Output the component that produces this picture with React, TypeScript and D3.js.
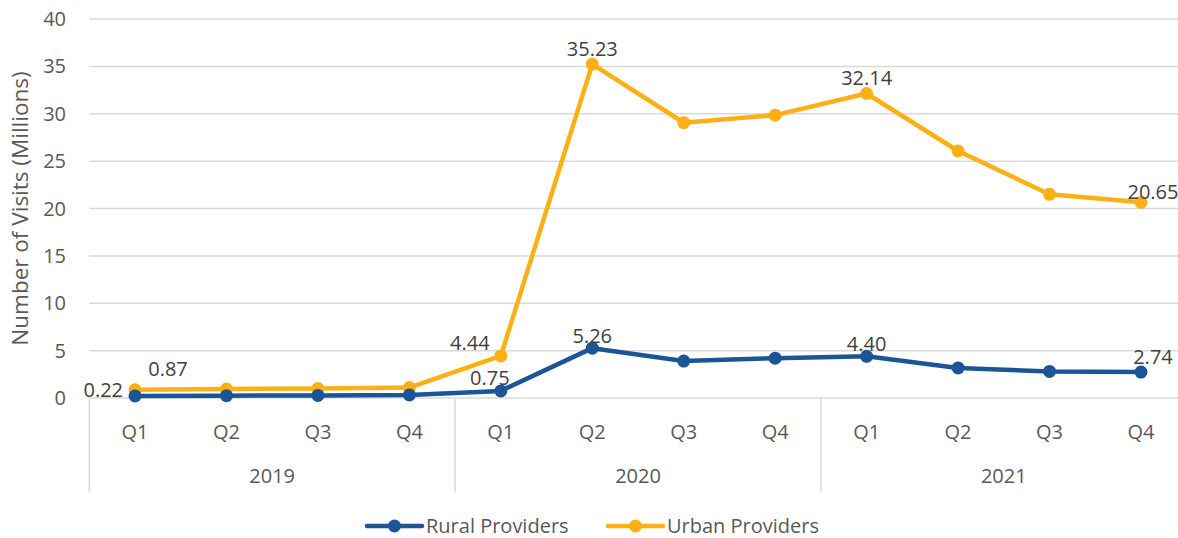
import React from "react";
import * as d3 from "d3";

const years = ["2019", "2020", "2021"];
const quarters = ["Q1", "Q2", "Q3", "Q4"];
const categories = years.flatMap((y) => quarters.map((q) => `${y} ${q}`));
const rural = [0.22, 0.25, 0.27, 0.32, 0.75, 5.26, 3.9, 4.2, 4.4, 3.17, 2.8, 2.74];
const urban = [0.87, 0.95, 1.0, 1.1, 4.44, 35.23, 29.05, 29.85, 32.14, 26.07, 21.5, 20.65];
const yTicks = [0, 5, 10, 15, 20, 25, 30, 35, 40];

// label config: series, index, text offset from the point
const labels = [
  { s: "rural", i: 0, dx: -12, dy: -6, anchor: "end" },
  { s: "urban", i: 0, dx: 33, dy: -21, anchor: "middle" },
  { s: "urban", i: 4, dx: -31, dy: -13, anchor: "middle" },
  { s: "rural", i: 4, dx: -11, dy: -13, anchor: "middle" },
  { s: "urban", i: 5, dx: 0, dy: -15, anchor: "middle" },
  { s: "rural", i: 5, dx: 0, dy: -12, anchor: "middle" },
  { s: "urban", i: 8, dx: 0, dy: -15, anchor: "middle" },
  { s: "rural", i: 8, dx: 0, dy: -12, anchor: "middle" },
  { s: "urban", i: 11, dx: 12, dy: -10, anchor: "middle" },
  { s: "rural", i: 11, dx: 12, dy: -15, anchor: "middle" },
];

const BLUE = "#1B5596";
const ORANGE = "#FDB016";
const FONT = "'Open Sans', sans-serif";
const TXT = "#595959";

export default function App() {
  const W = 1178, H = 538;
  const left = 89.3, right = 1186.7, top = 19, bottom = 398;
  const x = d3.scaleBand<string>().domain(categories).range([left, right]);
  const cx = (i: number) => (x(categories[i]) as number) + x.bandwidth() / 2;
  const y = d3.scaleLinear().domain([0, 40]).range([bottom, top]);
  const line = d3.line<number>().x((_, i) => cx(i)).y((d) => y(d));
  const series = [
    { key: "urban", data: urban, color: ORANGE, name: "Urban Providers" },
    { key: "rural", data: rural, color: BLUE, name: "Rural Providers" },
  ];
  const yearW = x.bandwidth() * 4;
  const FS = 20;
  return (
    <svg width={W} height={H} style={{ position: "absolute", left: 0, top: 0 }} fontFamily={FONT}>
      <rect width={W} height={H} fill="#fff" />
      {yTicks.map((t) => (
        <g key={t}>
          {t > 0 && <line x1={left} x2={right} y1={y(t)} y2={y(t)} stroke="#d9d9d9" strokeWidth={1.5} />}
          <text x={66} y={y(t)} dy="0.35em" textAnchor="end" fontSize={FS} fill={TXT}>{t}</text>
        </g>
      ))}
      <line x1={left} x2={right} y1={bottom} y2={bottom} stroke="#d9d9d9" strokeWidth={1.5} />
      {[0, 1, 2, 3].map((k) => (
        <line key={k} x1={left + k * yearW} x2={left + k * yearW} y1={bottom} y2={492} stroke="#d9d9d9" strokeWidth={1.5} />
      ))}
      {categories.map((c, i) => (
        <text key={c} x={cx(i)} y={432} dy="0.35em" textAnchor="middle" fontSize={FS} fill={TXT}>{quarters[i % 4]}</text>
      ))}
      {years.map((yr, k) => (
        <text key={yr} x={left + k * yearW + yearW / 2} y={476} dy="0.35em" textAnchor="middle" fontSize={FS} fill={TXT}>{yr}</text>
      ))}
      <text transform={`translate(20,${(top + bottom) / 2}) rotate(-90)`} textAnchor="middle" dy="0.35em" fontSize={22.5} fill={TXT}>
        Number of Visits (Millions)
      </text>
      {series.map((s) => (
        <g key={s.key}>
          <path d={line(s.data) as string} fill="none" stroke={s.color} strokeWidth={4.5} strokeLinejoin="round" />
          {s.data.map((d, i) => (
            <circle key={i} cx={cx(i)} cy={y(d)} r={6.5} fill={s.color} />
          ))}
        </g>
      ))}
      {labels.map((l, k) => {
        const data = l.s === "rural" ? rural : urban;
        return (
          <text key={k} x={cx(l.i) + l.dx} y={y(data[l.i]) + l.dy} dy="0.35em" textAnchor={l.anchor as any} fontSize={FS} fill="#404040">
            {data[l.i].toFixed(2)}
          </text>
        );
      })}
      {[
        { name: "Rural Providers", color: BLUE, x0: 367 },
        { name: "Urban Providers", color: ORANGE, x0: 608 },
      ].map((lg) => (
        <g key={lg.name}>
          <line x1={lg.x0} x2={lg.x0 + 55} y1={526} y2={526} stroke={lg.color} strokeWidth={4.5} strokeLinecap="round" />
          <circle cx={lg.x0 + 27.5} cy={526} r={6.5} fill={lg.color} />
          <text x={lg.x0 + 59} y={526} dy="0.35em" fontSize={FS} fill={TXT}>{lg.name}</text>
        </g>
      ))}
    </svg>
  );
}
